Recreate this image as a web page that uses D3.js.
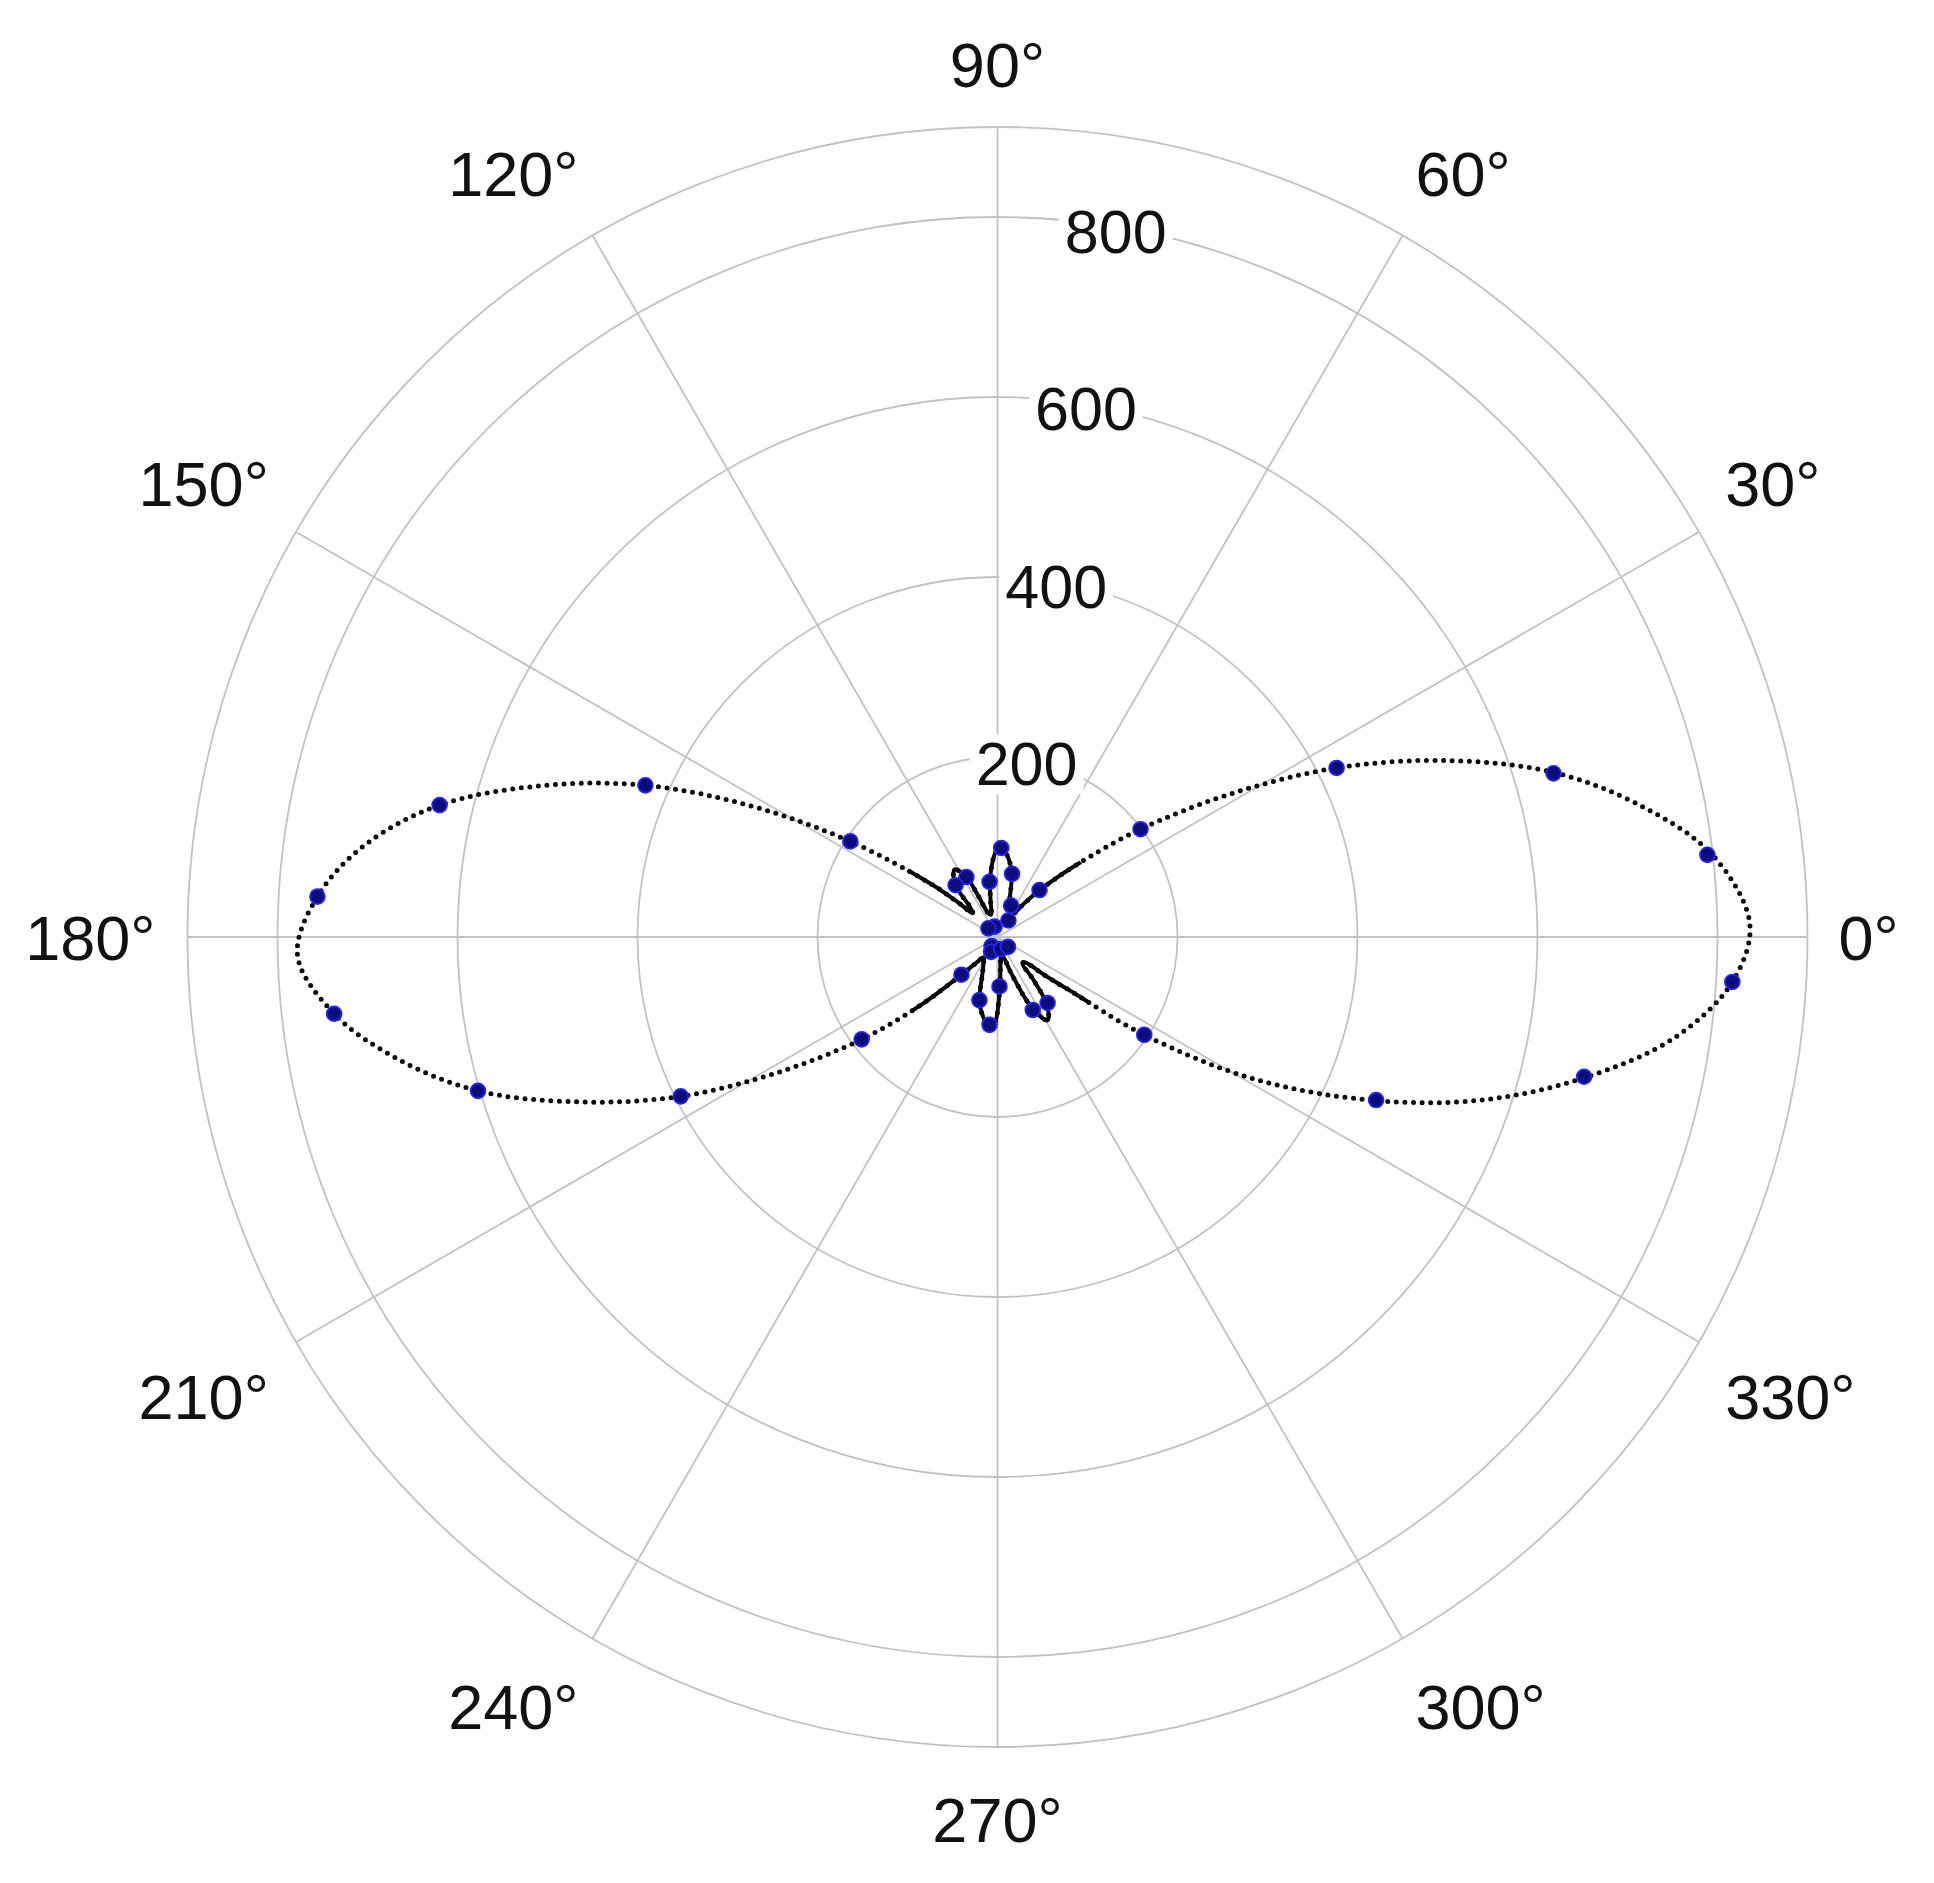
<!DOCTYPE html>
<html>
<head>
<meta charset="utf-8">
<script src="https://cdn.jsdelivr.net/npm/d3@7"></script>
<style>
  html, body { margin: 0; padding: 0; background: #ffffff; }
  svg { display: block; }
</style>
</head>
<body>
<svg id="chart" width="1934" height="1883"></svg>
<script>
// ---------------- data ----------------
const angleTicks = [0, 30, 60, 90, 120, 150, 180, 210, 240, 270, 300, 330];
const angleTickLabels = ["0°", "30°", "60°", "90°", "120°", "150°", "180°", "210°", "240°", "270°", "300°", "330°"];
const radialTicks = [200, 400, 600, 800];
const radialTickLabels = ["200", "400", "600", "800"];
const radialMax = 900;

// measured points (blue markers): angle in degrees, value
const markerAngles = [6.6, 16.4, 26.5, 37, 48.2, 56.6, 66.6, 77, 87.6, 98.2, 106.6, 117.4,
  129, 136.6, 147, 156.7, 166.7, 176.6, 186.6, 196.5, 206.7, 217, 226.3, 236.6,
  246.6, 254, 264.8, 272.3, 286.6, 295.8, 307.2, 316.6, 326.3, 336.7, 346.6, 356.5];
const markerValues = [794, 644, 421, 199, 70, 22, 38, 72, 99, 62, 12, 75,
  74, 14, 195, 426, 637, 757, 742, 602, 394, 189, 58, 12,
  18, 73, 98, 55, 14, 90, 92, 16, 196, 458, 670, 818];

// fitted curve (dotted line)
const fitAngles = [1, 6.5, 11.5, 16.5, 21.5, 26.5, 31.5, 37, 42.5, 48, 52, 56, 62, 67, 72, 77, 82,
  87.6, 91, 94.5, 98, 101, 106, 111, 115, 117.5, 122.5, 126.5, 129.5, 132.5, 136, 139, 141.5,
  147, 152, 156.7, 161.7, 166.7, 171.7, 176.6, 181.5, 186.6, 191.5, 196.5, 201.5, 206.7, 211.5,
  217, 221.5, 226.3, 231, 236, 242, 248, 254, 259, 265, 268.5, 271, 273.5, 277, 282, 287, 291,
  296, 301, 306, 310, 313.5, 317.5, 321, 323.5, 326.3, 331, 336.5, 341.5, 346.5, 351.5, 356.5];
const fitValues = [836, 800, 730, 644, 535, 421, 305, 199, 118, 70, 45, 30, 27, 34, 44, 70, 88,
  100, 95, 80, 60, 40, 26, 28, 50, 76, 89, 82, 72, 45, 38, 62, 96,
  195, 310, 426, 535, 637, 710, 757, 778, 742, 680, 602, 500, 394, 290,
  189, 115, 58, 36, 27, 33, 45, 73, 88, 101, 94, 72, 48, 28, 20, 24, 45,
  88, 108, 94, 62, 40, 42, 68, 100, 196, 325, 455, 570, 670, 760, 818];

// ---------------- layout ----------------
const cx = 997.5, cy = 937, R = 810;
const fontFamily = "'Liberation Sans', Arial, Helvetica, sans-serif";
const angleFont = 63, radialFont = 61;

const svg = d3.select("#chart");
const rScale = d3.scaleLinear().domain([0, radialMax]).range([0, R]);
const rad = a => a * Math.PI / 180;

const g = svg.append("g").attr("transform", `translate(${cx},${cy})`);

// grid rings
const ringVals = radialTicks.concat([radialMax]);
g.append("g").selectAll("circle").data(ringVals).join("circle")
  .attr("r", d => rScale(d))
  .attr("fill", "none")
  .attr("stroke", "#c2c2c2")
  .attr("stroke-width", 1.8);

// spokes
g.append("g").selectAll("line").data(angleTicks).join("line")
  .attr("x1", 0).attr("y1", 0)
  .attr("x2", d => rScale(radialMax) * Math.cos(rad(d)))
  .attr("y2", d => -rScale(radialMax) * Math.sin(rad(d)))
  .attr("stroke", "#c2c2c2")
  .attr("stroke-width", 1.8);

// radial tick labels with white background
const labelAngle = 80.5;
const rl = g.append("g").selectAll("g").data(radialTicks).join("g")
  .attr("transform", d => {
    const rr = rScale(d) - 4;
    return `translate(${rr * Math.cos(rad(labelAngle))},${-rr * Math.sin(rad(labelAngle))})`;
  });
const rlText = rl.append("text")
  .attr("text-anchor", "middle")
  .attr("y", radialFont * 0.36)
  .attr("font-family", fontFamily)
  .attr("font-size", radialFont)
  .attr("fill", "#111")
  .text((d, i) => radialTickLabels[i]);
rlText.each(function () {
  const bb = this.getBBox();
  d3.select(this.parentNode).insert("rect", "text")
    .attr("x", bb.x - 6).attr("y", bb.y + 4)
    .attr("width", bb.width + 12).attr("height", bb.height - 8)
    .attr("fill", "#ffffff");
});

// fitted curve
const fitData = fitAngles.map((a, i) => ({ a, v: fitValues[i] }));
const lineGen = d3.lineRadial()
  .angle(d => rad(90 - d.a))
  .radius(d => rScale(d.v))
  .curve(d3.curveCatmullRomClosed.alpha(0.5));

svg.append("defs").append("clipPath").attr("id", "innerClip")
  .append("circle").attr("cx", 0).attr("cy", 0).attr("r", 112);

g.append("path")
  .datum(fitData)
  .attr("d", lineGen)
  .attr("fill", "none")
  .attr("stroke", "#0a0a0a")
  .attr("stroke-width", 5)
  .attr("stroke-linecap", "round")
  .attr("stroke-dasharray", "0 8.6");

g.append("path")
  .datum(fitData)
  .attr("d", lineGen)
  .attr("clip-path", "url(#innerClip)")
  .attr("fill", "none")
  .attr("stroke", "#0a0a0a")
  .attr("stroke-width", 4)
  .attr("stroke-linejoin", "round");

// markers
const markerData = markerAngles.map((a, i) => ({ a, v: markerValues[i] }));
g.append("g").selectAll("circle").data(markerData).join("circle")
  .attr("cx", d => rScale(d.v) * Math.cos(rad(d.a)))
  .attr("cy", d => -rScale(d.v) * Math.sin(rad(d.a)))
  .attr("r", 7.4)
  .attr("fill", "#0c0c7a")
  .attr("stroke", "#2424f0")
  .attr("stroke-width", 1.8);

// angular labels: anchored by their corner nearest the plot
const labelR = R + 36;
const capH = angleFont * 0.716;
const eps = 1e-6;
g.append("g").selectAll("text").data(angleTicks).join("text")
  .attr("font-family", fontFamily)
  .attr("font-size", angleFont)
  .attr("fill", "#111")
  .attr("text-anchor", d => {
    const c = Math.cos(rad(d));
    return c > eps ? "start" : (c < -eps ? "end" : "middle");
  })
  .attr("x", d => {
    const c = Math.cos(rad(d));
    const shift = c > eps ? -5 : (c < -eps ? 4 : 0);
    return labelR * c + shift;
  })
  .attr("y", d => {
    const s = Math.sin(rad(d));
    const y0 = -labelR * s;
    if (s > eps) return y0 - (Math.abs(s) > 0.99 ? 4 : 8);   // text above the anchor
    if (s < -eps) return y0 + capH + 14;                       // text below the anchor
    return y0 + capH / 2;                                      // vertically centred
  })
  .text((d, i) => angleTickLabels[i]);
</script>
</body>
</html>
